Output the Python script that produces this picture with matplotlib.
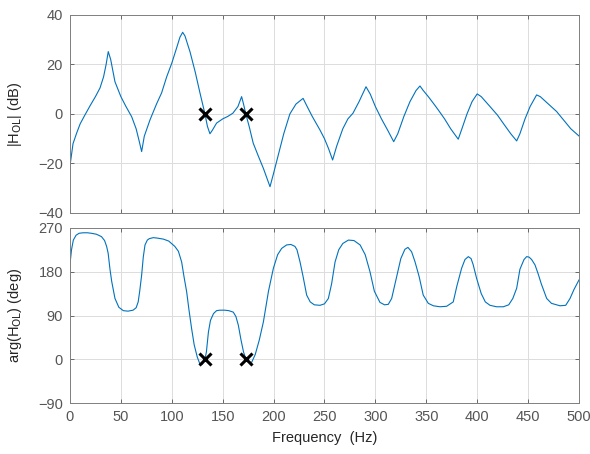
import numpy as np
import matplotlib.pyplot as plt

# magnitude curve (Hz, dB)
mag_f = [0, 3, 6.5, 10, 14.7, 20, 25, 29.5, 33, 35.5, 37.6, 40, 44.2, 50, 55, 60.6,
         65, 68, 70.4, 73, 78.6, 85, 90, 95, 100, 105, 108, 110.7, 113, 118, 123,
         127.7, 132.6, 135, 137.5, 140, 144, 150, 155, 160, 165, 168.6, 170.5, 172.7,
         176, 180, 185, 190, 196.5, 200, 205, 210, 216, 222, 229, 233, 238, 245.6,
         250, 254, 258, 262, 268, 273, 278, 284, 290.8, 295, 300, 306, 312, 318,
         322, 328, 334, 340, 343.8, 347, 352, 357, 362, 368, 374, 381.4, 385, 390,
         395, 400, 404, 412.6, 420, 426, 433, 438.8, 442, 447, 452, 458.4, 462,
         470, 478, 485, 492, 500]
mag_db = [-21, -12, -7.8, -4, -0.4, 3.5, 7, 10.5, 15, 20, 25.2, 22, 13, 7, 3, -1.1,
          -6, -11, -15.2, -9, -2.4, 4, 8.5, 15, 20.5, 27, 31, 33, 31.5, 25, 17,
          8.5, 0, -5, -8, -6.5, -3.7, -2, -1, 0.3, 3, 7, 4, 0, -5, -11.8, -17,
          -22, -29.4, -24, -16, -8, 0, 4, 6.3, 3, -1, -6.5, -10, -14, -18.6, -13,
          -6, -2, 0.3, 5, 11, 8, 3, -2, -6.5, -11.2, -8, -1, 5, 9.5, 11.3, 9.5,
          7, 4.3, 1.5, -2, -6, -10.2, -6, 0, 5, 8.1, 7, 3, -0.5, -4, -8, -10.9,
          -8, -2, 3, 7.7, 7, 4, 1, -2.5, -6, -8.9]

# phase curve (Hz, deg)
ph_f = [0, 1.5, 3.3, 6, 9, 13, 17, 21, 26, 31, 34, 36, 37.5, 39.3, 41, 44.2, 48,
        52.4, 57, 62, 65, 67, 68.5, 70.4, 72, 73.7, 76, 78, 81.8, 86, 91.7, 97,
        103, 106.5, 109.7, 112, 114.6, 117, 119.5, 122, 125, 127.7, 130, 132.6,
        134, 136, 138, 141, 144, 147.3, 152, 156, 160.4, 163, 165.4, 168, 170.5,
        172.9, 175.5, 178.5, 182, 186, 190, 195, 199.8, 204, 208, 212.8, 217,
        221, 223, 226, 229, 232.5, 236, 240, 245.6, 250, 253.8, 257, 260.4, 264,
        268, 273.5, 279, 285, 290, 294.7, 299, 304.5, 309, 312.7, 316, 321, 325,
        329, 332, 335.6, 339, 343, 347, 352, 357, 363.5, 370, 376.5, 380, 384.7,
        388, 391.3, 394, 396, 399.5, 404, 408, 412.6, 419, 425.7, 431, 435,
        438.8, 442, 446, 448.6, 451, 453.5, 456.8, 460, 463, 468.3, 473, 481.4,
        487, 491.2, 495, 500]
ph_deg = [195, 225, 245, 255, 259, 260, 260, 259, 257, 252, 244, 232, 218, 185,
          160, 125, 107, 100, 99, 101, 106, 118, 140, 173, 210, 235, 245, 248,
          250, 249, 247, 243, 232, 222, 200, 170, 139, 100, 63, 30, 5, -10, -10,
          0, 15, 56, 80, 94, 100, 101, 101, 100, 97, 88, 70, 40, 15, 0, -6, -6,
          10, 40, 77, 140, 187, 215, 228, 235, 236, 232, 225, 200, 170, 132, 118,
          112, 111, 114, 125, 155, 200, 225, 238, 245, 244, 235, 215, 180, 140,
          117, 112, 113, 125, 170, 207, 226, 230, 221, 200, 170, 132, 115, 110,
          108, 109, 118, 150, 187, 205, 211, 207, 195, 166, 135, 118, 111, 108,
          108, 112, 125, 146, 185, 205, 211, 210, 205, 194, 175, 155, 125, 115,
          110, 111, 125, 143, 163]

cross_f = [132.6, 172.8]
cross_db = [0, 0]
cross_deg = [0, 0]

blue = '#0072BD'
tick_col = '#555555'

plt.rcParams['font.family'] = ['Liberation Sans', 'DejaVu Sans']
plt.rcParams['font.size'] = 10.5

fig = plt.figure(figsize=(5.9, 4.54), dpi=100)
ax1 = fig.add_axes([0.1186, 0.531, 0.8627, 0.436])
ax2 = fig.add_axes([0.1186, 0.112, 0.8627, 0.386])

ax1.plot(mag_f, mag_db, color=blue, lw=0.8)
ax1.plot(cross_f, cross_db, 'x', color='black', ms=8, mew=2.2)
ax1.set_xlim(0, 500)
ax1.set_ylim(-40, 40)
ax1.set_yticks([-40, -20, 0, 20, 40])
ax1.set_xticks(np.arange(0, 501, 50))
ax1.set_xticklabels([])
ax1.set_ylabel(r'|H$_\mathrm{OL}$| (dB)', color='#262626')

ax2.plot(ph_f, ph_deg, color=blue, lw=0.8)
ax2.plot(cross_f, cross_deg, 'x', color='black', ms=8, mew=2.2)
ax2.set_xlim(0, 500)
ax2.set_ylim(-90, 270)
ax2.set_yticks([-90, 0, 90, 180, 270])
ax2.set_xticks(np.arange(0, 501, 50))
ax2.set_ylabel(r'arg(H$_\mathrm{OL}$) (deg)', color='#262626')
ax2.set_xlabel('Frequency  (Hz)', color='#262626', labelpad=5)

for ax in (ax1, ax2):
    ax.grid(True, color='#dcdcdc', lw=0.7)
    ax.set_axisbelow(True)
    ax.tick_params(direction='in', length=3, top=True, right=True, pad=5,
                   colors=tick_col, labelcolor=tick_col, width=0.6)
    for s in ax.spines.values():
        s.set_color('#808080')
        s.set_linewidth(0.7)
    ax.yaxis.set_label_coords(-0.09, 0.5)

fig.savefig('out.png', dpi=100)
